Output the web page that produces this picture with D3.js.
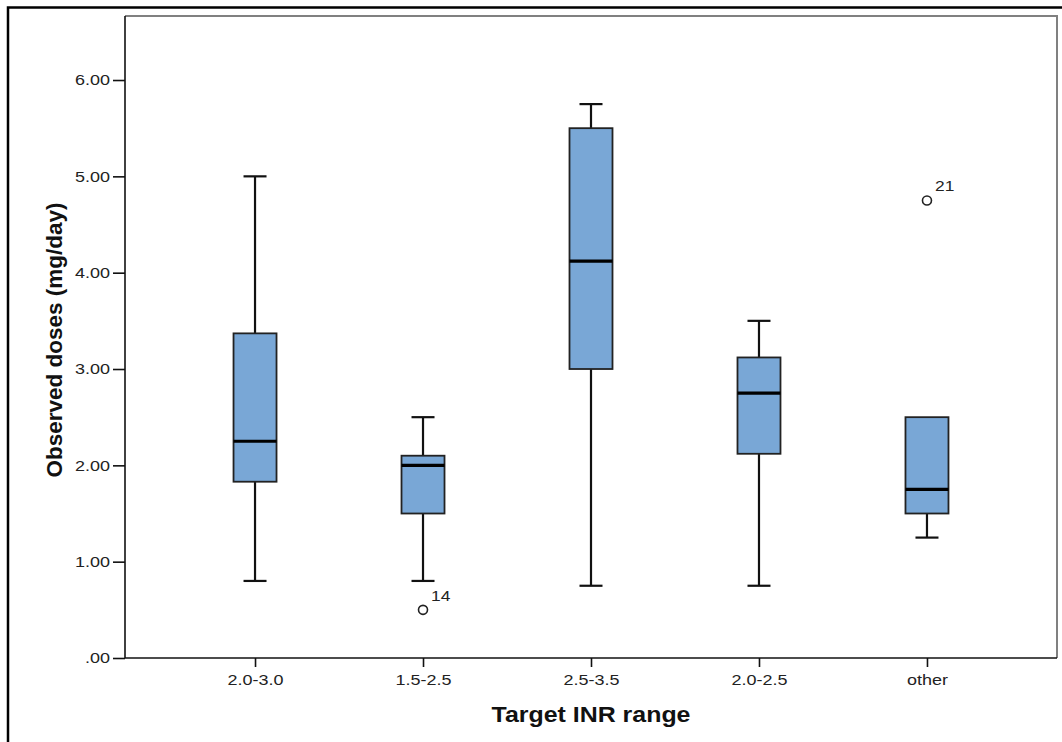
<!DOCTYPE html>
<html>
<head>
<meta charset="utf-8">
<script src="https://cdn.jsdelivr.net/npm/d3@7"></script>
<style>
  html, body { margin: 0; padding: 0; background: #fff; }
  svg { display: block; }
</style>
</head>
<body>
<svg id="chart" width="1062" height="742"></svg>
<script>
// ---- data ----
const categories = ["2.0-3.0", "1.5-2.5", "2.5-3.5", "2.0-2.5", "other"];
const whiskerLow  = [0.80, 0.80, 0.75, 0.75, 1.25];
const q1          = [1.83, 1.50, 3.00, 2.12, 1.50];
const medians     = [2.25, 2.00, 4.12, 2.75, 1.75];
const q3          = [3.37, 2.10, 5.50, 3.12, 2.50];
const whiskerHigh = [5.00, 2.50, 5.75, 3.50, 2.50];
const outlierCats   = ["1.5-2.5", "other"];
const outlierValues = [0.50, 4.75];
const outlierLabels = ["14", "21"];
const yTicks = [0, 1, 2, 3, 4, 5, 6];
const yTitle = "Observed doses (mg/day)";
const xTitle = "Target INR range";

// ---- layout ----
const svg = d3.select("#chart");
const plot = { left: 125, right: 1057, top: 16, bottom: 658 };
const font = "'Liberation Sans', Arial, sans-serif";
const sx = 1.16; // horizontal stretch seen in the reference text

// outer border
svg.append("rect")
  .attr("x", 8).attr("y", 7.5)
  .attr("width", 1070).attr("height", 760)
  .attr("fill", "none").attr("stroke", "#000").attr("stroke-width", 2.5);

const x = d3.scalePoint().domain(categories)
  .range([plot.left, plot.right]).padding(0.774);
const y = d3.scaleLinear().domain([0, 6.667]).range([plot.bottom, plot.bottom - 6.667 * 96.33]);

// plot frame: top & right gray
svg.append("path")
  .attr("d", `M${plot.left},${plot.top}H${plot.right}V${plot.bottom}`)
  .attr("fill", "none").attr("stroke", "#808080").attr("stroke-width", 2);

// y axis
const yAxis = d3.axisLeft(y).tickValues(yTicks)
  .tickFormat(d => d === 0 ? ".00" : d3.format(".2f")(d))
  .tickSizeOuter(0).tickSize(12).tickPadding(3);
const gy = svg.append("g").attr("transform", `translate(${plot.left},0)`).call(yAxis);
gy.select(".domain").attr("d", `M0,${plot.top}V${plot.bottom}`).attr("stroke", "#111").attr("stroke-width", 1.6);
gy.selectAll(".tick line").attr("stroke", "#111").attr("stroke-width", 1.6);
gy.selectAll(".tick text").attr("font-family", font).attr("font-size", 15.5).attr("fill", "#222")
  .attr("x", -15 / sx).attr("transform", `scale(${sx},1)`);

// x axis
const xAxis = d3.axisBottom(x).tickSizeOuter(0).tickSize(9).tickPadding(7);
const gx = svg.append("g").attr("transform", `translate(0,${plot.bottom})`).call(xAxis);
gx.select(".domain").attr("d", `M${plot.left},0H${plot.right}`).attr("stroke", "#111").attr("stroke-width", 1.6);
gx.selectAll(".tick line").attr("stroke", "#111").attr("stroke-width", 1.6);
gx.selectAll(".tick text").attr("font-family", font).attr("font-size", 15.5).attr("fill", "#222")
  .attr("transform", `scale(${sx},1)`);

// boxes
const boxW = 43, capW = 23;
const g = svg.append("g");
categories.forEach((c, i) => {
  const cx = x(c);
  g.append("line").attr("x1", cx).attr("x2", cx)
    .attr("y1", y(whiskerHigh[i])).attr("y2", y(q3[i]))
    .attr("stroke", "#111").attr("stroke-width", 2.2);
  g.append("line").attr("x1", cx).attr("x2", cx)
    .attr("y1", y(q1[i])).attr("y2", y(whiskerLow[i]))
    .attr("stroke", "#111").attr("stroke-width", 2.2);
  if (whiskerHigh[i] > q3[i]) {
    g.append("line").attr("x1", cx - capW / 2).attr("x2", cx + capW / 2)
      .attr("y1", y(whiskerHigh[i])).attr("y2", y(whiskerHigh[i]))
      .attr("stroke", "#111").attr("stroke-width", 2.2);
  }
  g.append("line").attr("x1", cx - capW / 2).attr("x2", cx + capW / 2)
    .attr("y1", y(whiskerLow[i])).attr("y2", y(whiskerLow[i]))
    .attr("stroke", "#111").attr("stroke-width", 2.2);
  g.append("rect").attr("x", cx - boxW / 2).attr("width", boxW)
    .attr("y", y(q3[i])).attr("height", y(q1[i]) - y(q3[i]))
    .attr("fill", "#79a7d6").attr("stroke", "#222").attr("stroke-width", 1.8);
  g.append("line").attr("x1", cx - boxW / 2).attr("x2", cx + boxW / 2)
    .attr("y1", y(medians[i])).attr("y2", y(medians[i]))
    .attr("stroke", "#000").attr("stroke-width", 3.2);
});

// outliers
outlierCats.forEach((c, i) => {
  const cx = x(c), cy = y(outlierValues[i]);
  g.append("circle").attr("cx", cx).attr("cy", cy).attr("r", 4.5)
    .attr("fill", "none").attr("stroke", "#222").attr("stroke-width", 1.6);
  g.append("text").attr("x", (cx + 8) / sx).attr("y", cy - 9)
    .attr("transform", `scale(${sx},1)`)
    .attr("font-family", font).attr("font-size", 15).attr("fill", "#222")
    .text(outlierLabels[i]);
});

// titles
svg.append("text")
  .attr("transform", `translate(${(plot.left + plot.right) / 2},722) scale(${sx},1)`)
  .attr("text-anchor", "middle")
  .attr("font-family", font).attr("font-weight", "bold").attr("font-size", 21.5).attr("fill", "#111")
  .text(xTitle);
svg.append("text")
  .attr("transform", `translate(62,${(plot.top + plot.bottom) / 2 + 3}) rotate(-90)`)
  .attr("text-anchor", "middle")
  .attr("font-family", font).attr("font-weight", "bold").attr("font-size", 22.5).attr("fill", "#111")
  .text(yTitle);
</script>
</body>
</html>
